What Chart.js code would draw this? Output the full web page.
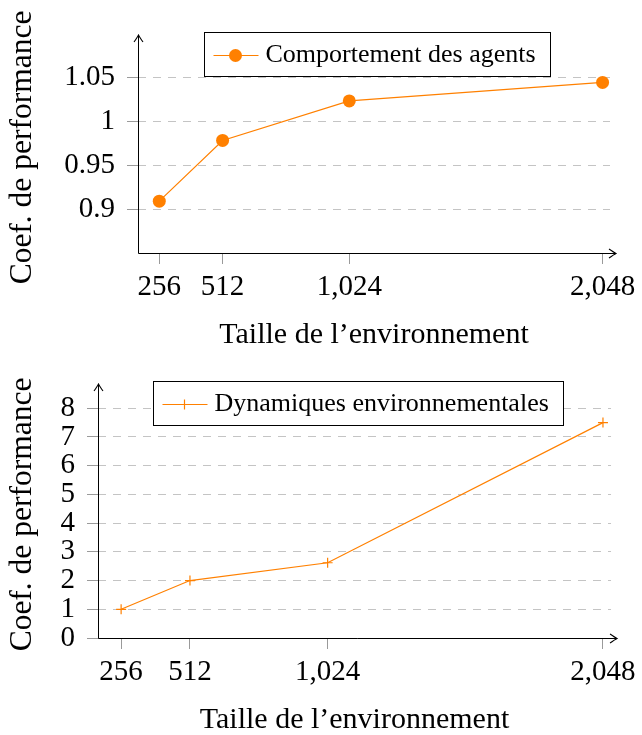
<!DOCTYPE html>
<html>
<head>
<meta charset="utf-8">
<script src="https://cdn.jsdelivr.net/npm/chart.js@4.4.1/dist/chart.umd.min.js"></script>
<style>
    html, body { margin: 0; padding: 0; background: #fff; overflow: hidden; }
    #wrap { position: relative; width: 642px; height: 735px; }
    canvas { position: absolute; left: 0; }
    #Chart1 { top: 0; }
    #Chart2 { top: 350px; }
</style>
</head>
<body>
<div id="wrap">
    <canvas id="Chart1" width="642" height="350"></canvas>
    <canvas id="Chart2" width="642" height="385"></canvas>
</div>
<script>
// =========== data
const envSizes = [256, 512, 1024, 2048];
const agentsCoef = [0.909, 0.978, 1.023, 1.044];
const dynamicsCoef = [1.0, 2.0, 2.62, 7.5];
const xTickValues = [256, 512, 1024, 2048];
const agentsTickValues = [0.9, 0.95, 1, 1.05];
const dynamicsTickValues = [0, 1, 2, 3, 4, 5, 6, 7, 8];

const ORANGE = "#ff8000";
const SERIF = '"Liberation Serif", "Times New Roman", serif';

// axis lines with arrow heads (pgfplots "axis lines = left" look)
const axisArrows = {
    id: "axisArrows",
    afterDraw(chart) {
        const { ctx, chartArea: a } = chart;
        const x0 = Math.round(a.left) + 0.5;
        const y0 = Math.round(a.bottom) + 0.5;
        const xTip = a.right + 6;
        const yTip = a.top - 7;
        ctx.save();
        ctx.setLineDash([]);
        ctx.strokeStyle = "#000";
        ctx.lineWidth = 1;
        ctx.beginPath();
        ctx.moveTo(x0, y0);
        ctx.lineTo(xTip, y0);
        ctx.moveTo(x0, y0);
        ctx.lineTo(x0, yTip);
        ctx.stroke();
        ctx.lineWidth = 1.1;
        ctx.beginPath();
        ctx.moveTo(xTip - 7, y0 - 4.5);
        ctx.quadraticCurveTo(xTip - 2, y0 - 1, xTip, y0);
        ctx.quadraticCurveTo(xTip - 2, y0 + 1, xTip - 7, y0 + 4.5);
        ctx.moveTo(x0 - 4.5, yTip + 7);
        ctx.quadraticCurveTo(x0 - 1, yTip + 2, x0, yTip);
        ctx.quadraticCurveTo(x0 + 1, yTip + 2, x0 + 4.5, yTip + 7);
        ctx.stroke();
        ctx.restore();
    },
};

// boxed legend inside the plot, like the pgfplots one
const boxLegend = {
    id: "boxLegend",
    afterDraw(chart) {
        const ds = chart.data.datasets[0];
        const { ctx, chartArea: a } = chart;
        ctx.save();
        ctx.font = "26px " + SERIF;
        const tw = ctx.measureText(ds.label).width;
        const w = Math.round(tw + 76);
        const h = 44;
        const left = Math.round((a.left + a.right) / 2 + 3 - w / 2) + 0.5;
        const top = Math.round(a.top - 10) + 0.5;
        ctx.fillStyle = "#fff";
        ctx.fillRect(left, top, w, h);
        ctx.strokeStyle = "#000";
        ctx.lineWidth = 1;
        ctx.strokeRect(left, top, w, h);

        const sy = top + 23;
        const mx = left + 31;
        ctx.strokeStyle = ds.borderColor;
        ctx.lineWidth = ds.borderWidth;
        ctx.beginPath();
        ctx.moveTo(left + 9, sy);
        ctx.lineTo(left + 54, sy);
        ctx.stroke();
        const r = ds.pointRadius;
        if (ds.pointStyle === "cross") {
            ctx.beginPath();
            ctx.moveTo(mx, sy - r);
            ctx.lineTo(mx, sy + r);
            ctx.stroke();
        } else {
            ctx.fillStyle = ds.pointBackgroundColor;
            ctx.beginPath();
            ctx.arc(mx, sy, r, 0, Math.PI * 2);
            ctx.fill();
        }

        ctx.fillStyle = "#000";
        ctx.textBaseline = "alphabetic";
        ctx.textAlign = "left";
        ctx.fillText(ds.label, left + 61, top + 29);
        ctx.restore();
    },
};

function xScale() {
    return {
        type: "linear",
        min: 170,
        max: 2078,
        afterFit: (scale) => { scale.height = 97; },
        afterBuildTicks: (scale) => {
            scale.ticks = xTickValues.map((v) => ({ value: v }));
        },
        grid: {
            drawOnChartArea: false,
            drawTicks: true,
            tickLength: 11,
            tickColor: "#9a9a9a",
            tickWidth: 1,
        },
        border: { display: false },
        ticks: {
            autoSkip: false,
            maxRotation: 0,
            padding: 6,
            color: "#000",
            font: { family: SERIF, size: 29 },
            callback: (v) => Number(v).toLocaleString("en-US"),
        },
        title: {
            display: true,
            text: "Taille de l’environnement",
            color: "#000",
            font: { family: SERIF, size: 30, lineHeight: 1 },
            padding: { top: 0, bottom: 0 },
        },
    };
}

function yScale(width, min, max, tickValues) {
    return {
        type: "linear",
        min: min,
        max: max,
        afterFit: (scale) => { scale.width = width; },
        afterBuildTicks: (scale) => {
            scale.ticks = tickValues.map((v) => ({ value: v }));
        },
        grid: {
            color: "#c4c4c4",
            lineWidth: 1,
            drawTicks: true,
            tickLength: 11,
            tickColor: "#9a9a9a",
            tickWidth: 1,
            tickBorderDash: [],
        },
        border: { display: false, dash: [8, 7] },
        ticks: {
            autoSkip: false,
            padding: 12,
            color: "#000",
            font: { family: SERIF, size: 29 },
            callback: (v) => String(+Number(v).toFixed(2)),
        },
        title: {
            display: true,
            text: "Coef. de performance",
            color: "#000",
            font: { family: SERIF, size: 31.5, lineHeight: 1 },
            padding: { top: 7, bottom: 0 },
        },
    };
}

// =========== chart one start
const ctx1 = document.getElementById("Chart1").getContext("2d");
const chart1 = new Chart(ctx1, {
    type: "line",
    data: {
        datasets: [
            {
                label: "Comportement des agents",
                data: envSizes.map((x, i) => ({ x: x, y: agentsCoef[i] })),
                borderColor: ORANGE,
                backgroundColor: ORANGE,
                borderWidth: 1.2,
                pointStyle: "circle",
                pointRadius: 6.5,
                pointBackgroundColor: ORANGE,
                pointBorderColor: ORANGE,
                pointBorderWidth: 0,
                tension: 0,
            },
        ],
    },
    options: {
        responsive: false,
        animation: false,
        devicePixelRatio: 1,
        layout: { padding: { top: 42, right: 32, left: 0, bottom: 0 } },
        plugins: {
            legend: { display: false },
            tooltip: { enabled: false },
        },
        scales: {
            x: xScale(),
            y: yScale(138, 0.85, 1.09, agentsTickValues),
        },
    },
    plugins: [axisArrows, boxLegend],
});
// =========== chart one end

// =========== chart two start
const ctx2 = document.getElementById("Chart2").getContext("2d");
const chart2 = new Chart(ctx2, {
    type: "line",
    data: {
        datasets: [
            {
                label: "Dynamiques environnementales",
                data: envSizes.map((x, i) => ({ x: x, y: dynamicsCoef[i] })),
                borderColor: ORANGE,
                backgroundColor: ORANGE,
                borderWidth: 1.2,
                pointStyle: "cross",
                pointRadius: 5,
                pointBorderColor: ORANGE,
                pointBorderWidth: 1.2,
                tension: 0,
            },
        ],
    },
    options: {
        responsive: false,
        animation: false,
        devicePixelRatio: 1,
        layout: { padding: { top: 41, right: 26, left: 0, bottom: 0 } },
        plugins: {
            legend: { display: false },
            tooltip: { enabled: false },
        },
        scales: {
            x: xScale(),
            y: yScale(98, 0, 8.6, dynamicsTickValues),
        },
    },
    plugins: [axisArrows, boxLegend],
});
// =========== chart two end
</script>
</body>
</html>
